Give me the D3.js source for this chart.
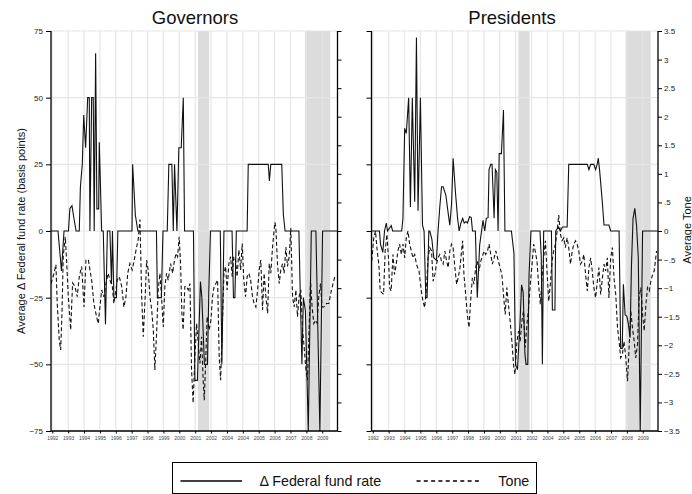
<!DOCTYPE html>
<html><head><meta charset="utf-8">
<script src="https://cdn.jsdelivr.net/npm/d3@7"></script>
<style>
html,body{margin:0;padding:0;background:#fff;}
svg{display:block;font-family:"Liberation Sans",Arial,Helvetica,sans-serif;}
</style></head>
<body>
<svg id="chart" width="692" height="494"></svg>
<script>
// ---------------- DATA ----------------
const panelTitles = ["Governors", "Presidents"];
const yearTicks = [1992,1993,1994,1995,1996,1997,1998,1999,2000,2001,2002,2003,2004,2005,2006,2007,2008,2009];
const yearLabels = ["1992","1993","1994","1995","1996","1997","1998","1999","2000","2001","2002","2004","2004","2005","2006","2007","2008","2009"];
const rateTicks = [75,50,25,0,-25,-50,-75];
const rateTickLabels = ["75","50","25","0","\u221225","\u221250","\u221275"];
const toneTicks = [3.5,3,2.5,2,1.5,1,0.5,0,-0.5,-1,-1.5,-2,-2.5,-3,-3.5];
const toneTickLabels = ["3.5","3","2.5","2","1.5","1",".5","0","\u2212.5","\u22121","\u22121.5","\u22122","\u22122.5","\u22123","\u22123.5"];
const recessions = [[2001.17, 2001.88], [2007.92, 2009.5]];
const legendLabels = ["\u0394 Federal fund rate", "Tone"];

// Governors: average change in federal funds rate (basis points)
const govRate = [[1991.92,0],[1992.36,0],[1992.58,-15],[1992.74,0],[1993.02,0],[1993.11,8.5],[1993.24,9.5],[1993.37,4.5],[1993.5,0],[1993.7,0],[1993.77,16.4],[1993.89,25],[1993.98,43.5],[1994.1,31.2],[1994.23,50],[1994.33,50],[1994.37,0],[1994.48,50],[1994.58,50],[1994.64,0],[1994.73,66.7],[1994.81,8.3],[1994.92,8.3],[1994.96,33.3],[1995.11,0],[1995.21,0],[1995.35,-35],[1995.47,0],[1995.63,0],[1995.73,-20],[1995.79,0],[1995.88,-25],[1996.04,-25],[1996.13,0],[1997.02,0],[1997.06,25],[1997.23,6],[1997.39,0],[1998.56,0],[1998.62,-25],[1998.87,-25],[1998.97,0],[1999.24,0],[1999.34,25],[1999.53,25],[1999.62,0],[1999.7,25],[1999.85,0],[1999.97,31.2],[2000.12,31.2],[2000.25,50],[2000.33,0],[2000.89,0],[2000.98,-56],[2001.14,-56],[2001.33,-19],[2001.42,-25],[2001.58,-50],[2001.77,-50],[2001.86,-22],[2001.96,0],[2002.58,0],[2002.68,-50],[2002.81,0],[2003.32,0],[2003.41,-25],[2003.5,-25],[2003.59,0],[2004.27,0],[2004.34,25],[2005.6,25],[2005.67,18.75],[2005.76,25],[2006.45,25],[2006.55,6.2],[2006.66,0],[2007.53,0],[2007.62,-25],[2007.72,-50],[2007.81,-25],[2007.94,-30],[2008.12,-75],[2008.31,0],[2008.6,0],[2008.85,-75],[2009.02,0],[2009.92,0]];

// Governors: average tone
const govTone = [[1991.92,-0.92],[1992.11,-0.74],[1992.23,-0.59],[1992.31,-1.26],[1992.44,-1.91],[1992.53,-2.08],[1992.61,-1.44],[1992.69,-0.45],[1992.82,-0.1],[1992.91,-0.57],[1993.01,-1.15],[1993.16,-1.73],[1993.28,-0.91],[1993.43,-0.97],[1993.57,-1.15],[1993.7,-0.8],[1993.85,-0.62],[1994.0,-1.33],[1994.12,-0.51],[1994.27,-0.5],[1994.37,-0.68],[1994.48,-0.86],[1994.62,-1.27],[1994.79,-1.5],[1994.89,-1.62],[1995.0,-1.33],[1995.11,-1.03],[1995.25,-1.15],[1995.38,-0.92],[1995.52,-0.74],[1995.63,-0.86],[1995.78,-0.97],[1995.88,-1.27],[1996.01,-1.03],[1996.09,-0.86],[1996.22,-0.8],[1996.37,-0.97],[1996.51,-1.33],[1996.64,-1.15],[1996.75,-0.74],[1996.89,-0.57],[1997.03,-0.68],[1997.16,-0.51],[1997.31,-0.28],[1997.41,-0.15],[1997.52,0.2],[1997.63,-1.15],[1997.73,-1.85],[1997.85,-1.15],[1997.94,-0.51],[1998.04,-0.68],[1998.15,-1.15],[1998.26,-1.38],[1998.36,-1.73],[1998.46,-2.43],[1998.57,-1.79],[1998.67,-1.03],[1998.78,-0.74],[1998.88,-1.15],[1998.99,-1.68],[1999.09,-0.97],[1999.2,-0.74],[1999.3,-0.86],[1999.45,-0.57],[1999.58,-0.74],[1999.66,-0.57],[1999.79,-0.39],[1999.89,-0.45],[1999.99,-0.1],[2000.08,-0.57],[2000.16,-1.44],[2000.24,-1.73],[2000.35,-0.97],[2000.46,-0.97],[2000.56,-1.03],[2000.67,-0.92],[2000.77,-2.43],[2000.87,-3.01],[2000.98,-2.2],[2001.09,-1.62],[2001.19,-1.97],[2001.3,-2.32],[2001.4,-1.85],[2001.5,-2.61],[2001.57,-2.96],[2001.67,-2.2],[2001.75,-1.5],[2001.88,-1.73],[2001.99,-1.56],[2002.09,-1.15],[2002.19,-0.97],[2002.3,-0.92],[2002.41,-0.86],[2002.51,-2.2],[2002.6,-2.61],[2002.7,-1.73],[2002.81,-0.74],[2002.91,-0.62],[2003.01,-1.03],[2003.12,-0.57],[2003.23,-0.45],[2003.33,-0.8],[2003.43,-0.45],[2003.54,-0.51],[2003.64,-0.8],[2003.75,-0.33],[2003.86,-0.68],[2003.96,-0.22],[2004.06,-0.86],[2004.17,-1.15],[2004.27,-0.8],[2004.38,-0.74],[2004.49,-0.86],[2004.61,-1.15],[2004.71,-1.27],[2004.82,-1.33],[2004.93,-1.03],[2005.03,-0.68],[2005.13,-0.51],[2005.24,-1.38],[2005.34,-0.74],[2005.45,-1.15],[2005.56,-1.44],[2005.66,-0.57],[2005.76,-0.74],[2005.87,-0.28],[2005.97,0.02],[2006.02,0.15],[2006.08,0.05],[2006.18,-0.57],[2006.29,-0.92],[2006.39,-0.68],[2006.5,-0.57],[2006.6,-0.74],[2006.71,-0.28],[2006.81,-0.62],[2006.92,-0.45],[2007.02,0.05],[2007.13,-1.15],[2007.23,-1.33],[2007.34,-1.03],[2007.44,-1.5],[2007.54,-1.15],[2007.65,-1.03],[2007.76,-1.73],[2007.86,-2.03],[2007.97,-2.43],[2008.07,-2.61],[2008.17,-1.73],[2008.26,-0.86],[2008.36,-1.33],[2008.47,-1.62],[2008.58,-1.56],[2008.68,-1.62],[2008.78,-1.15],[2008.89,-0.92],[2008.99,-1.33],[2009.1,-1.33],[2009.27,-1.27],[2009.41,-1.27],[2009.58,-1.03],[2009.79,-0.8]];

// Presidents: average change in federal funds rate (basis points)
const presRate = [[1991.94,0],[1992.42,0],[1992.49,-5],[1992.63,-8],[1992.74,0],[1992.85,3],[1992.93,0],[1993.16,2],[1993.25,0],[1993.82,0],[1993.9,4.75],[1994.01,38.5],[1994.11,36.6],[1994.26,50],[1994.37,9],[1994.49,50],[1994.64,11],[1994.75,72.6],[1994.85,7.6],[1995.0,50],[1995.13,2.25],[1995.23,0],[1995.34,-25],[1995.42,-25],[1995.53,0],[1995.59,0],[1995.72,-3],[1995.84,-10],[1996.01,-11],[1996.11,0],[1996.22,9],[1996.33,16.6],[1996.43,16.6],[1996.6,13.5],[1996.75,6.6],[1996.85,2.2],[1996.96,10],[1997.06,27.3],[1997.22,13.5],[1997.34,4.75],[1997.44,0],[1997.55,3],[1997.66,4.75],[1997.76,3],[1997.87,3.5],[1997.96,3],[1998.1,5.4],[1998.2,5],[1998.28,0],[1998.46,0],[1998.58,-25],[1998.73,-5.3],[1998.85,0],[1998.94,4],[1999.05,0],[1999.15,4.75],[1999.26,5],[1999.32,23],[1999.43,25],[1999.51,25],[1999.64,4.75],[1999.72,23],[1999.81,22],[1999.89,0],[1999.96,29],[2000.1,29],[2000.23,45.4],[2000.32,0],[2000.73,0],[2000.89,-8.4],[2000.99,-50],[2001.11,-52],[2001.27,-34.6],[2001.37,-20.2],[2001.47,-23],[2001.58,-46],[2001.65,-50],[2001.76,-50],[2001.84,-16.5],[2001.96,0],[2002.53,0],[2002.61,-10],[2002.68,-50],[2002.76,0],[2003.25,0],[2003.31,-29.6],[2003.47,-29.6],[2003.52,0],[2003.69,1.5],[2003.82,0],[2003.94,1.5],[2004.07,1.5],[2004.24,1.5],[2004.34,25],[2005.51,25],[2005.61,23],[2005.72,25],[2005.92,25],[2006.03,23],[2006.13,25],[2006.2,27.3],[2006.28,23],[2006.46,10.4],[2006.56,2.25],[2006.73,2.25],[2006.87,2.25],[2006.98,0],[2007.51,0],[2007.61,-44],[2007.71,-44],[2007.78,-20],[2007.89,-31.5],[2008.0,-32],[2008.1,-35],[2008.2,-40],[2008.29,-12.7],[2008.39,4.75],[2008.5,8.5],[2008.61,2],[2008.72,-10],[2008.84,-75],[2008.99,0],[2009.94,0]];

// Presidents: average tone
const presTone = [[1991.94,-0.52],[1992.06,-0.12],[1992.17,0],[1992.28,-0.35],[1992.38,-0.58],[1992.47,-1.05],[1992.57,-1.08],[1992.68,-1.11],[1992.78,-0.35],[1992.89,-0.06],[1992.99,-0.47],[1993.06,-0.99],[1993.16,-1.05],[1993.27,-0.41],[1993.37,-0.76],[1993.48,-0.58],[1993.58,-0.35],[1993.69,-0.23],[1993.8,-0.41],[1993.9,-0.23],[1994.01,-0.47],[1994.11,-0.12],[1994.22,0],[1994.32,-0.23],[1994.43,-0.35],[1994.53,-0.47],[1994.64,-0.41],[1994.75,-0.58],[1994.91,-0.7],[1995.06,-1.05],[1995.16,-1.23],[1995.27,-1.34],[1995.38,-0.99],[1995.48,-0.47],[1995.59,-0.29],[1995.7,-0.35],[1995.8,-0.88],[1995.91,-0.76],[1996.01,-0.58],[1996.11,-0.47],[1996.22,-0.41],[1996.33,-0.53],[1996.43,-0.58],[1996.54,-0.35],[1996.65,-0.53],[1996.75,-0.64],[1996.85,-0.35],[1996.96,-0.23],[1997.06,-0.29],[1997.17,-0.64],[1997.28,-0.93],[1997.38,-0.82],[1997.49,-0.64],[1997.59,-0.35],[1997.66,-0.17],[1997.74,-0.76],[1997.85,-1.11],[1997.95,-1.46],[1998.06,-1.69],[1998.16,-1.23],[1998.27,-0.82],[1998.37,-0.93],[1998.48,-0.64],[1998.58,-0.53],[1998.69,-0.7],[1998.8,-0.53],[1998.9,-0.44],[1999.01,-0.35],[1999.11,-0.41],[1999.22,-0.35],[1999.32,-0.23],[1999.43,-0.41],[1999.53,-0.58],[1999.64,-0.47],[1999.75,-0.35],[1999.91,-0.53],[2000.13,-0.76],[2000.23,-1.11],[2000.34,-1.46],[2000.44,-0.99],[2000.54,-1.28],[2000.65,-1.58],[2000.76,-1.93],[2000.86,-2.33],[2000.95,-2.51],[2001.08,-1.93],[2001.18,-1.75],[2001.28,-1.93],[2001.39,-1.58],[2001.49,-1.4],[2001.6,-2.04],[2001.71,-1.63],[2001.81,-1.34],[2001.92,-0.93],[2002.03,-0.58],[2002.13,-0.23],[2002.23,-0.35],[2002.34,-0.53],[2002.44,-0.93],[2002.55,-1.28],[2002.66,-0.82],[2002.76,-0.47],[2002.87,-0.17],[2002.97,-0.7],[2003.08,-1.23],[2003.18,-0.93],[2003.29,-0.53],[2003.39,-0.35],[2003.5,-0.23],[2003.61,0],[2003.71,0.28],[2003.82,-0.06],[2003.92,-0.17],[2004.03,-0.12],[2004.13,-0.29],[2004.24,-0.12],[2004.34,-0.29],[2004.45,-0.58],[2004.56,-0.35],[2004.66,-0.23],[2004.77,-0.17],[2004.87,-0.23],[2004.97,-0.35],[2005.08,-0.58],[2005.19,-0.53],[2005.29,-0.41],[2005.4,-0.76],[2005.51,-1.05],[2005.61,-0.64],[2005.72,-0.47],[2005.82,-0.7],[2005.92,-0.99],[2006.03,-1.17],[2006.14,-0.88],[2006.24,-0.64],[2006.35,-1.11],[2006.46,-0.82],[2006.56,-0.58],[2006.66,-0.7],[2006.77,-0.47],[2006.87,-1.17],[2006.98,-0.47],[2007.09,-0.29],[2007.19,-0.82],[2007.3,-1.11],[2007.41,-1.69],[2007.51,-1.93],[2007.61,-2.22],[2007.72,-2.16],[2007.82,-1.93],[2007.93,-2.22],[2008.04,-2.63],[2008.14,-2.04],[2008.25,-1.4],[2008.35,-1.69],[2008.46,-1.93],[2008.56,-2.22],[2008.67,-1.98],[2008.77,-1.17],[2008.88,-0.99],[2008.99,-1.46],[2009.09,-1.75],[2009.2,-1.28],[2009.3,-0.99],[2009.41,-1.05],[2009.51,-0.88],[2009.62,-0.76],[2009.72,-0.7],[2009.87,-0.35]];

// ---------------- DRAW ----------------
const svg = d3.select("#chart");
const FONT = '"Liberation Sans",Arial,Helvetica,sans-serif';
const yTop = 31, yBot = 431;
const panels = [
  {title: panelTitles[0], x0: 51, x1: 337.5, rate: govRate, tone: govTone, leftLabels: true, rightLabels: false, titleX: 195},
  {title: panelTitles[1], x0: 371.5, x1: 658, rate: presRate, tone: presTone, leftLabels: false, rightLabels: true, titleX: 512}
];
const yRate = d3.scaleLinear().domain([-75, 75]).range([yBot, yTop]);
const yTone = d3.scaleLinear().domain([-3.5, 3.5]).range([yBot, yTop]);

panels.forEach((p, i) => {
  const x = d3.scaleLinear().domain([1991.92, 2009.96]).range([p.x0, p.x1]);
  const g = svg.append("g");
  const clipId = "clip" + i;
  svg.append("clipPath").attr("id", clipId).append("rect")
    .attr("x", p.x0).attr("y", yTop - 1).attr("width", p.x1 - p.x0).attr("height", yBot - yTop + 2);

  // recession shading
  g.selectAll("rect.rec").data(recessions).enter().append("rect")
    .attr("x", d => x(d[0])).attr("width", d => x(d[1]) - x(d[0]))
    .attr("y", yTop).attr("height", yBot - yTop).attr("fill", "#dcdcdc");

  // gridlines
  g.selectAll("line.hg").data(rateTicks).enter().append("line")
    .attr("x1", p.x0).attr("x2", p.x1).attr("y1", d => yRate(d)).attr("y2", d => yRate(d))
    .attr("stroke", "#e6e6e6").attr("stroke-width", 1.2);
  g.selectAll("line.vg").data(yearTicks).enter().append("line")
    .attr("x1", d => x(d)).attr("x2", d => x(d)).attr("y1", yTop).attr("y2", yBot)
    .attr("stroke", "#e6e6e6").attr("stroke-width", 1.2);

  // series
  const plot = g.append("g").attr("clip-path", `url(#${clipId})`);
  const lineRate = d3.line().x(d => x(d[0])).y(d => yRate(d[1]));
  const lineTone = d3.line().x(d => x(d[0])).y(d => yTone(d[1]));
  plot.append("path").datum(p.tone).attr("d", lineTone)
    .attr("fill", "none").attr("stroke", "#111").attr("stroke-width", 1.1)
    .attr("stroke-dasharray", "4,2.5");
  plot.append("path").datum(p.rate).attr("d", lineRate)
    .attr("fill", "none").attr("stroke", "#111").attr("stroke-width", 1.1)
    .attr("stroke-linejoin", "miter");

  // axes
  const leftAxis = d3.axisLeft(yRate).tickValues(rateTicks).tickSize(5).tickPadding(3)
    .tickFormat((d, k) => p.leftLabels ? rateTickLabels[k] : "");
  const ga = g.append("g").attr("transform", `translate(${p.x0},0)`).call(leftAxis);
  const rightAxis = d3.axisRight(yTone).tickValues(toneTicks).tickSize(4).tickPadding(2)
    .tickFormat((d, k) => p.rightLabels ? toneTickLabels[k] : "");
  const gr = g.append("g").attr("transform", `translate(${p.x1},0)`).call(rightAxis);
  const bottomAxis = d3.axisBottom(x).tickValues(yearTicks).tickSize(2.5).tickPadding(2.5)
    .tickFormat((d, k) => yearLabels[k]);
  const gb = g.append("g").attr("transform", `translate(0,${yBot})`).call(bottomAxis);

  [ga, gr, gb].forEach(a => {
    a.select(".domain").attr("stroke", "#000").attr("stroke-width", 1.3);
    a.selectAll(".tick line").attr("stroke", "#000").attr("stroke-width", 1);
    a.selectAll("text").attr("fill", "#222").style("font-family", FONT);
  });
  ga.selectAll("text").style("font-size", "8px");
  gr.selectAll("text").style("font-size", "8px").attr("text-anchor", "start");
  gb.selectAll("text").style("font-size", "5px").attr("fill", "#444");
  ga.select(".domain").attr("d", `M0,${yTop}V${yBot}`);
  gr.select(".domain").attr("d", `M0,${yTop}V${yBot}`);
  gb.select(".domain").attr("d", `M${p.x0},0H${p.x1}`);

  // title
  svg.append("text").attr("x", p.titleX).attr("y", 24).attr("text-anchor", "middle")
    .style("font-family", FONT).style("font-size", "18.5px").attr("fill", "#111").text(p.title);
});

// axis titles
svg.append("text").attr("transform", "translate(24.5,231) rotate(-90)").attr("text-anchor", "middle")
  .style("font-family", FONT).style("font-size", "11px").attr("fill", "#111")
  .text("Average \u0394 Federal fund rate (basis points)");
svg.append("text").attr("transform", "translate(690.5,230) rotate(-90)").attr("text-anchor", "middle")
  .style("font-family", FONT).style("font-size", "11px").attr("fill", "#111")
  .text("Average Tone");

// legend
const lg = svg.append("g");
lg.append("rect").attr("x", 172.5).attr("y", 462.5).attr("width", 364).attr("height", 31)
  .attr("fill", "#fff").attr("stroke", "#000").attr("stroke-width", 1);
lg.append("line").attr("x1", 180.5).attr("x2", 242).attr("y1", 481).attr("y2", 481)
  .attr("stroke", "#000").attr("stroke-width", 1.3);
lg.append("text").attr("x", 259.5).attr("y", 485.5).style("font-family", FONT).style("font-size", "14.3px")
  .attr("fill", "#111").text(legendLabels[0]);
lg.append("line").attr("x1", 416.5).attr("x2", 482).attr("y1", 481).attr("y2", 481)
  .attr("stroke", "#000").attr("stroke-width", 1.3).attr("stroke-dasharray", "4,3.3");
lg.append("text").attr("x", 498.3).attr("y", 485.5).style("font-family", FONT).style("font-size", "14.3px")
  .attr("fill", "#111").text(legendLabels[1]);
</script>
</body></html>
